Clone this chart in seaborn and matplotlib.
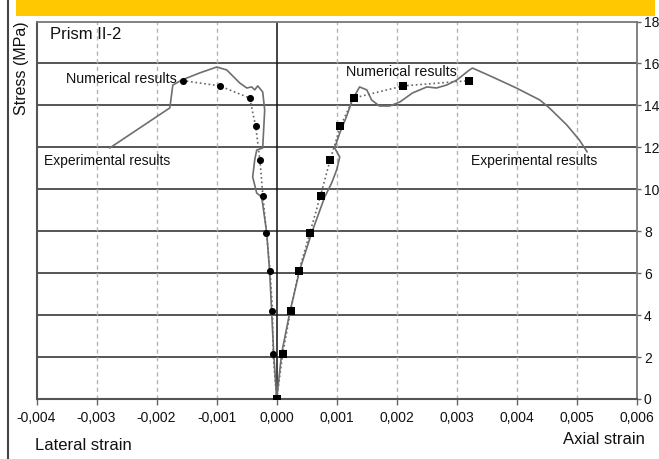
import numpy as np
import pandas as pd
import matplotlib
matplotlib.use("Agg")
import matplotlib.pyplot as plt
from matplotlib.patches import Rectangle
from matplotlib.lines import Line2D
import seaborn as sns

# Experimental curves (strain, stress in MPa)
lateral_exp_strain = [0.0, -0.00005, -0.000083, -0.000116, -0.000166, -0.00025, -0.000333,
                      -0.0004, -0.000366, -0.000333, -0.000233, -0.0002, -0.000233, -0.000316,
                      -0.000366, -0.000416, -0.0005, -0.000616, -0.000832, -0.000998, -0.00128,
                      -0.00158, -0.00173, -0.00178, -0.00278]
lateral_exp_stress = [0.0, 2.19, 4.10, 6.01, 7.92, 9.63, 9.82,
                      10.59, 11.40, 11.87, 11.97, 13.78, 14.64, 14.93,
                      14.74, 14.88, 14.83, 15.07, 15.69, 15.83, 15.55,
                      15.21, 14.97, 13.88, 11.97]

axial_exp_strain = [0.0, 0.000083, 0.000216, 0.000383, 0.000582, 0.000799, 0.000915, 0.000998,
                    0.00105, 0.000965, 0.00105, 0.00116, 0.00126, 0.00138, 0.0015, 0.00158,
                    0.00171, 0.00188, 0.00205, 0.00226, 0.0025, 0.00266, 0.00283, 0.003,
                    0.00321, 0.00326, 0.00359, 0.00399, 0.00438, 0.00454, 0.00483, 0.00504,
                    0.00517]
axial_exp_stress = [0.0, 2.19, 4.10, 6.15, 7.92, 9.63, 10.30, 10.92,
                    11.54, 11.97, 12.68, 13.45, 14.26, 14.88, 14.74, 14.26,
                    13.97, 13.97, 14.16, 14.59, 14.88, 14.83, 14.97, 15.21,
                    15.69, 15.78, 15.36, 14.83, 14.26, 13.88, 13.07, 12.35,
                    11.78]

# Numerical results
num_stress = [0.0, 2.15, 4.2, 6.1, 7.9, 9.7, 11.4, 13.0, 14.35, 14.93, 15.18]
num_lateral_strain = [0.0, -0.00006, -0.00007, -0.00011, -0.00017, -0.00023, -0.00028,
                      -0.00035, -0.00045, -0.00095, -0.00156]
num_axial_strain = [0.0, 0.0001, 0.00023, 0.00037, 0.00055, 0.00073, 0.00089,
                    0.00106, 0.00128, 0.00211, 0.0032]

x_ticks = [-0.004, -0.003, -0.002, -0.001, 0.0, 0.001, 0.002, 0.003, 0.004, 0.005, 0.006]
x_tick_labels = ["-0,004", "-0,003", "-0,002", "-0,001", "0,000", "0,001", "0,002",
                 "0,003", "0,004", "0,005", "0,006"]
y_ticks = [0, 2, 4, 6, 8, 10, 12, 14, 16, 18]

sns.set_theme(style="white")
plt.rcParams["font.family"] = ["Liberation Sans", "DejaVu Sans"]

W, H = 659, 459
fig = plt.figure(figsize=(W / 100, H / 100), dpi=100)
ax = fig.add_axes([36.5 / W, (H - 399) / H, (637 - 36.5) / W, (399 - 21.5) / H])

exp_lat = pd.DataFrame({"strain": lateral_exp_strain, "stress": lateral_exp_stress})
exp_ax = pd.DataFrame({"strain": axial_exp_strain, "stress": axial_exp_stress})
num_lat = pd.DataFrame({"strain": num_lateral_strain, "stress": num_stress})
num_ax = pd.DataFrame({"strain": num_axial_strain, "stress": num_stress})

# grid
for yv in y_ticks[1:-1]:
    ax.axhline(yv, color="#555555", lw=1.4, zorder=1)
for xv in x_ticks[1:-1]:
    if xv == 0.0:
        ax.axvline(xv, color="#111111", lw=1.1, zorder=1)
    else:
        ax.axvline(xv, color="#b5b5b5", lw=1.0, ls=(0, (3, 2.5)), zorder=1)

# numerical results (dotted with markers)
sns.lineplot(data=num_lat, x="strain", y="stress", sort=False, estimator=None, ax=ax,
             color="#666666", lw=1.2, ls=":", zorder=3)
sns.lineplot(data=num_ax, x="strain", y="stress", sort=False, estimator=None, ax=ax,
             color="#666666", lw=1.2, ls=":", zorder=3)

# experimental curves
sns.lineplot(data=exp_lat, x="strain", y="stress", sort=False, estimator=None, ax=ax,
             color="#6e6e6e", lw=1.2, zorder=4)
sns.lineplot(data=exp_ax, x="strain", y="stress", sort=False, estimator=None, ax=ax,
             color="#6e6e6e", lw=1.2, zorder=4)

sns.scatterplot(data=num_lat, x="strain", y="stress", ax=ax, marker="o", s=26,
                color="black", edgecolor="black", linewidth=0, zorder=5)
sns.scatterplot(data=num_ax, x="strain", y="stress", ax=ax, marker="s", s=34,
                color="black", edgecolor="black", linewidth=0, zorder=5)

ax.set_xlim(-0.004, 0.006)
ax.set_ylim(0, 18)
ax.set_xticks(x_ticks)
ax.set_xticklabels(x_tick_labels, fontsize=10, color="#111111")
ax.set_yticks(y_ticks)
ax.set_yticklabels([str(v) for v in y_ticks], fontsize=10, color="#111111")
ax.yaxis.tick_right()
ax.tick_params(axis="x", direction="out", length=4, width=1.0, color="#666666", pad=5, bottom=True)
ax.tick_params(axis="y", direction="out", length=3, width=1.0, color="#666666", pad=2,
               right=True, left=False)
ax.set_xlabel("")
ax.set_ylabel("")

for side, c, w in [("left", "#555555", 1.5), ("bottom", "#555555", 1.5),
                   ("right", "#777777", 1.3), ("top", "#777777", 1.3)]:
    ax.spines[side].set_visible(True)
    ax.spines[side].set_color(c)
    ax.spines[side].set_linewidth(w)

# annotations
ax.text(-0.00378, 17.36, "Prism II-2", fontsize=12, ha="left", va="center", color="#111111")
ax.text(-0.00166, 15.25, "Numerical results", fontsize=10.3, ha="right", va="center", color="#111111")
ax.text(0.00116, 15.6, "Numerical results", fontsize=10.3, ha="left", va="center", color="#111111")
ax.text(-0.00178, 11.35, "Experimental results", fontsize=10, ha="right", va="center", color="#111111")
ax.text(0.00324, 11.35, "Experimental results", fontsize=10, ha="left", va="center", color="#111111")

# figure-level labels and frame decorations
fig.text(21.5 / W, 1 - 68 / H, "Stress (MPa)", rotation=90, ha="center", va="center",
         fontsize=11.5, color="#111111")
fig.text(35 / W, 1 - 445 / H, "Lateral strain", ha="left", va="center", fontsize=12,
         color="#111111")
fig.text(645 / W, 1 - 440 / H, "Axial strain", ha="right", va="center", fontsize=12,
         color="#111111")

fig.patches.append(Rectangle((16 / W, 1 - 16 / H), (655 - 16) / W, 16 / H,
                             transform=fig.transFigure, facecolor="#FFC800",
                             edgecolor="none", zorder=0))
fig.lines.append(Line2D([7.5 / W, 7.5 / W], [0, 1], transform=fig.transFigure,
                        color="#444444", lw=1.5))

fig.savefig("out.png", dpi=100)
